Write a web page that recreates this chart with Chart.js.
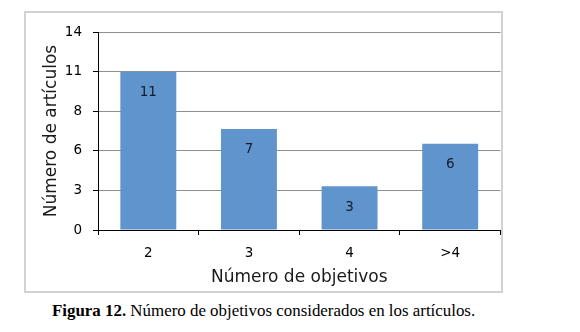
<!DOCTYPE html>
<html><head><meta charset="utf-8">
<script src="https://cdn.jsdelivr.net/npm/chart.js@4"></script>
<style>
html,body{margin:0;padding:0;background:#fff;width:580px;height:332px;overflow:hidden;}
#frame{position:absolute;left:24px;top:11px;width:475px;height:278px;border:2px solid #d2d2d2;}
#frame canvas{display:block;}
#caption{position:absolute;left:52px;top:302px;font-family:"Liberation Serif","Times New Roman",serif;font-size:16.9px;line-height:17px;color:#000;white-space:nowrap;}
</style></head><body>
<div id="frame"><canvas id="c" width="475" height="278"></canvas></div>
<div id="caption"><b>Figura 12.</b> Número de objetivos considerados en los artículos.</div>
<script>
const categories = ['2', '3', '4', '>4'];
const articleCounts = [11.2, 7.15, 3.1, 6.1];
const yTickValues = [0, 2.8, 5.6, 8.4, 11.2, 14];
const yTickLabels = ['0', '3', '6', '8', '11', '14'];
const xTitle = 'Número de objetivos';
const yTitle = 'Número de artículos';

const FONT = '"DejaVu Sans", Verdana, sans-serif';

const barLabels = {
  id: 'barLabels',
  afterDatasetsDraw(chart) {
    const ctx = chart.ctx;
    const meta = chart.getDatasetMeta(0);
    ctx.save();
    ctx.font = '13.5px ' + FONT;
    ctx.fillStyle = '#141c2c';
    ctx.textAlign = 'center';
    ctx.textBaseline = 'middle';
    meta.data.forEach((bar, i) => {
      ctx.fillText(String(Math.round(articleCounts[i])), bar.x, bar.y + 21);
    });
    ctx.restore();
  }
};

new Chart(document.getElementById('c'), {
  type: 'bar',
  data: {
    labels: categories,
    datasets: [{
      data: articleCounts,
      backgroundColor: '#6094cc',
      borderWidth: 0,
      barPercentage: 0.556,
      categoryPercentage: 1
    }]
  },
  options: {
    responsive: false,
    animation: false,
    layout: { padding: { left: 0, top: 18, right: 0.5, bottom: 0 } },
    plugins: { legend: { display: false }, tooltip: { enabled: false } },
    scales: {
      x: {
        afterFit: s => { s.height = 61; },
        ticks: { padding: 10, color: '#000', font: { family: FONT, size: 13.5 } },
        grid: { drawOnChartArea: false, drawTicks: true, tickLength: 5, tickColor: '#000', offset: true },
        border: { color: '#000', width: 1 },
        title: { display: true, text: xTitle, color: '#1a1a1a', font: { family: FONT, size: 17 }, padding: { top: 0, bottom: 3 } }
      },
      y: {
        min: 0, max: 14,
        afterBuildTicks: s => { s.ticks = yTickValues.map(v => ({ value: v })); },
        afterFit: s => { s.width = 72; },
        ticks: { padding: 11, color: '#000', font: { family: FONT, size: 13.5 }, callback: (v, i) => yTickLabels[i] },
        grid: { color: '#8f8f8f', lineWidth: 1, drawTicks: true, tickLength: 5, tickColor: '#000' },
        border: { color: '#000', width: 1 },
        title: { display: true, text: yTitle, color: '#1a1a1a', font: { family: FONT, size: 17 }, padding: { top: 15, bottom: 0 } }
      }
    }
  },
  plugins: [barLabels]
});
</script>
</body></html>
